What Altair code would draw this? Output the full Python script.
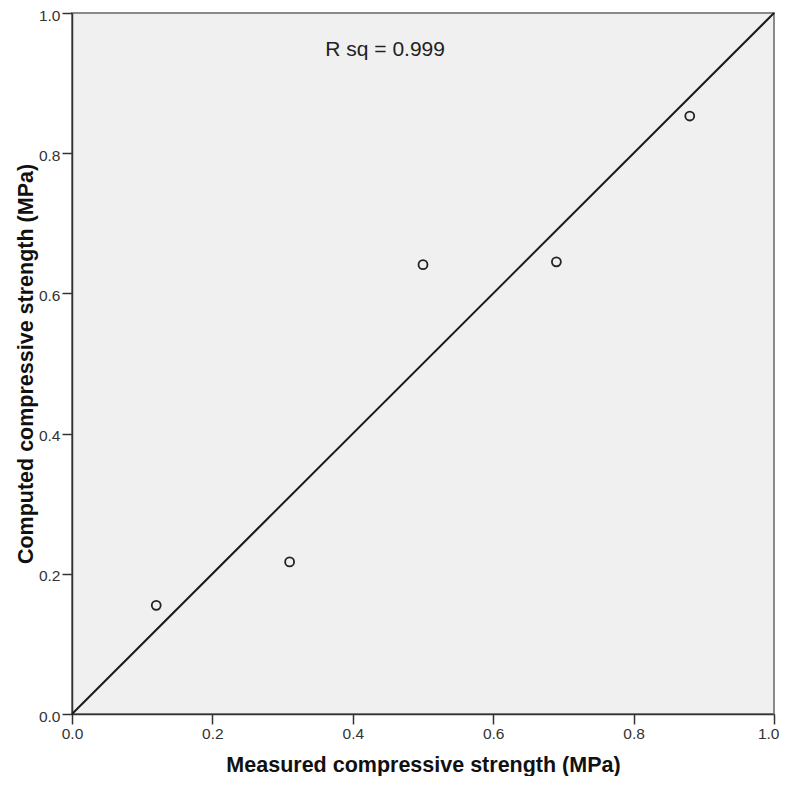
import altair as alt
import pandas as pd

measured = [0.12, 0.31, 0.50, 0.69, 0.88]
computed = [0.155, 0.217, 0.641, 0.645, 0.853]
line_x = [0.0, 1.0]
line_y = [0.0, 1.0]
ticks = [0.0, 0.2, 0.4, 0.6, 0.8, 1.0]
annotation = "R sq = 0.999"

pts = pd.DataFrame({"x": measured, "y": computed})
ln = pd.DataFrame({"x": line_x, "y": line_y})
ann = pd.DataFrame({"x": [0.446], "y": [0.938], "t": [annotation]})

xs = alt.Scale(domain=[0, 1], nice=False, zero=False)
ys = alt.Scale(domain=[0, 1], nice=False, zero=False)

xax = alt.Axis(values=ticks, format=".1f", grid=False, title="Measured compressive strength (MPa)",
               labelFlush=False,
               labelAlign={"expr": "datum.value >= 1 ? 'right' : 'center'"},
               labelOffset={"expr": "datum.value >= 1 ? 5 : 0"},
               titleBaseline="alphabetic", titleY=57, titleX=351)
yax = alt.Axis(values=ticks, format=".1f", grid=False, title="Computed compressive strength (MPa)",
               labelOffset=2, titleBaseline="alphabetic", titleX=-40, titleY=350.5)

line = alt.Chart(ln).mark_line(color="#1a1a1a", strokeWidth=2).encode(
    x=alt.X("x:Q", scale=xs, axis=xax),
    y=alt.Y("y:Q", scale=ys, axis=yax),
)
points = alt.Chart(pts).mark_point(shape="circle", filled=False, color="#222222",
                                   size=80, strokeWidth=1.8, opacity=1).encode(
    x=alt.X("x:Q", scale=xs),
    y=alt.Y("y:Q", scale=ys),
)
text = alt.Chart(ann).mark_text(font="Liberation Sans", fontSize=21, color="#222222",
                                align="center", baseline="alphabetic").encode(
    x=alt.X("x:Q", scale=xs),
    y=alt.Y("y:Q", scale=ys),
    text="t:N",
)

chart = (line + points + text).properties(
    width=702, height=701,
    autosize=alt.AutoSizeParams(type="none"),
    padding={"left": 64, "top": 5, "right": 5, "bottom": 62},
    background="white",
).configure_view(
    fill="#f0f0f0", stroke="#8a8a8a", strokeWidth=2,
).configure_axis(
    domainColor="#333333", domainWidth=1.5,
    tickColor="#333333", tickSize=10, tickWidth=1.5,
    labelFont="Liberation Sans", labelFontSize=15.5, labelColor="#333333", labelPadding=2,
    titleFont="Liberation Sans", titleFontSize=21.5, titleFontWeight="bold", titleColor="#111111",
)

chart.save("out.html", embed_options={"renderer": "svg", "actions": False})
